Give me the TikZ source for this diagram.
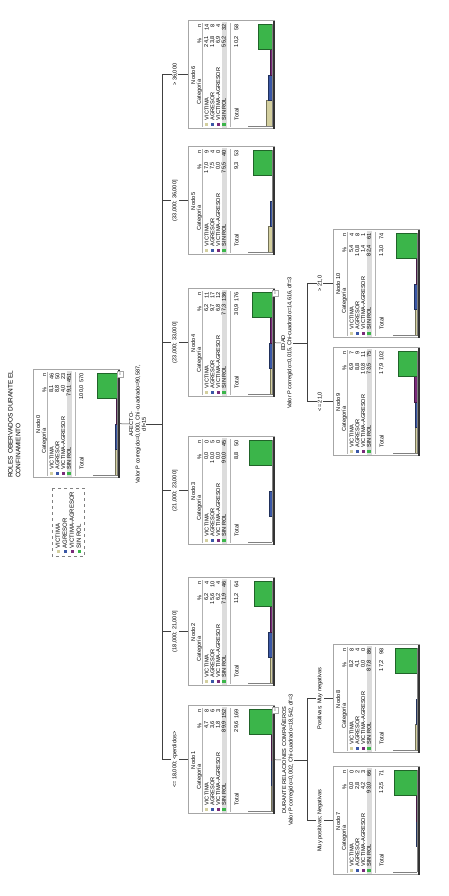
\documentclass[tikz,border=0pt]{standalone}
\usepackage{fontspec}
\setmainfont{Liberation Sans}
\definecolor{cat1}{HTML}{D3CF9F}
\definecolor{cat2}{HTML}{3A57A6}
\definecolor{cat3}{HTML}{7A2A7A}
\definecolor{cat4}{HTML}{3BB54A}
\definecolor{rowgray}{HTML}{DCDCDC}
\tikzset{
  txt/.style={inner sep=0pt, font=\fontsize{5.6}{6.4}\selectfont},
  boxst/.style={draw=gray!70, line width=0.6, minimum width=108pt, minimum height=86pt, inner sep=0pt},
  conn/.style={draw=black!75, line width=0.5},
  lab/.style={txt, fill=white, inner sep=1pt},
  collapse/.style={draw=gray!70, fill=white, minimum size=6pt, inner sep=0pt, font=\fontsize{5}{5}\selectfont},
}
\newcommand\treenode[7]{%
\begin{scope}[shift={(#2-54,-#3)}]
  \fill[rowgray] (1,-33.8) rectangle (107,-39);
  \node[boxst, anchor=north west] (#1) at (0,0) {};
  \draw[gray!40!black, line width=1.1] (0,-86) -- (108,-86);
  \node[txt] at (54,-5) {Nodo #4};
  \node[txt] at (37,-11.5) {Categoría};
  \node[txt,anchor=east] at (91,-11.5) {\%};
  \node[txt,anchor=east] at (105,-11.5) {n};
  \draw[gray!60, line width=0.3] (2,-14.6) -- (106,-14.6);
  \foreach \p/\n/\h [count=\i] in {#5}{
    \pgfmathsetmacro\yy{-18.6-5.8*(\i-1)}
    \fill[cat\i] (3,\yy-1.6) rectangle (6.2,\yy+1.6);
    \node[txt,anchor=west] at (8.5,\yy) {\ifcase\i\or VICTIMA\or AGRESOR\or VICTIMA-AGRESOR\or SIN ROL\fi};
    \node[txt,anchor=east] at (93,\yy) {\p};
    \node[txt,anchor=east] at (105,\yy) {\n};
    \pgfmathsetmacro\xx{3+25.5*(\i-1)}
    \ifdim\h pt>0pt
      \filldraw[fill=cat\i, draw=cat\i!55!black, line width=0.4] (\xx,-84) rectangle ++(25.5,\h*0.25);
    \fi
  }
  \draw[gray!60, line width=0.3] (2,-42) -- (106,-42);
  \node[txt,anchor=west] at (8.5,-48.5) {Total};
  \node[txt,anchor=east] at (93,-48.5) {#6};
  \node[txt,anchor=east] at (105,-48.5) {#7};
  \draw[gray, line width=0.4] (2.5,-84) -- (2.5,-60) (2.5,-84) -- (105,-84);
\end{scope}}
\begin{document}
\begin{tikzpicture}[x=1pt,y=1pt]
\useasboundingbox (0,0) rectangle (448,896);
\begin{scope}[rotate=90, transform shape]
  % title and legend
  \node[anchor=north west, align=left, inner sep=0pt, font=\fontsize{6.5}{7.6}\selectfont] (title) at (418,-8) {ROLES OBERVADOS DURANTE EL\\CONFINAMIENTO};
  \node[draw=gray, dashed, align=left, inner sep=3.5pt, font=\fontsize{6}{7}\selectfont, anchor=north east] (legend) at (408,-52)
    {\textcolor{cat1}{\rule{3.2pt}{3.2pt}} VICTIMA\\\textcolor{cat2}{\rule{3.2pt}{3.2pt}} AGRESOR\\\textcolor{cat3}{\rule{3.2pt}{3.2pt}} VICTIMA-AGRESOR\\\textcolor{cat4}{\rule{3.2pt}{3.2pt}} SIN ROL};
  % nodes
  \treenode{n0}{472}{33}{0}{{8,1}/46/8.1, {8,8}/50/8.8, {4,0}/23/4.0, {79,1}/451/79.1}{100,0}{570}
  \treenode{n1}{136}{188}{1}{{4,7}/8/4.7, {3,6}/6/3.6, {1,8}/3/1.8, {89,9}/152/89.9}{29,6}{169}
  \treenode{n2}{264}{188}{2}{{6,2}/4/6.2, {15,6}/10/15.6, {6,2}/4/6.2, {71,9}/46/71.9}{11,2}{64}
  \treenode{n3}{405}{188}{3}{{0,0}/0/0, {10,0}/5/10, {0,0}/0/0, {90,0}/45/90}{8,8}{50}
  \treenode{n4}{553}{188}{4}{{6,2}/11/6.2, {9,7}/17/9.7, {6,8}/12/6.8, {77,3}/136/77.3}{30,9}{176}
  \treenode{n5}{695}{188}{5}{{17,0}/9/17, {7,5}/4/7.5, {0,0}/0/0, {75,5}/40/75.5}{9,3}{53}
  \treenode{n6}{821}{188}{6}{{24,1}/14/24.1, {13,8}/8/13.8, {6,9}/4/6.9, {55,2}/32/55.2}{10,2}{58}
  \treenode{n7}{75}{333}{7}{{0,0}/0/0, {2,8}/2/2.8, {4,2}/3/4.2, {93,0}/66/93}{12,5}{71}
  \treenode{n8}{197}{333}{8}{{8,2}/8/8.2, {4,1}/4/4.1, {0,0}/0/0, {87,8}/86/87.8}{17,2}{98}
  \treenode{n9}{494}{333}{9}{{6,9}/7/6.9, {8,8}/9/8.8, {10,8}/11/10.8, {73,5}/75/73.5}{17,9}{102}
  \treenode{n10}{612}{333}{10}{{5,4}/4/5.4, {10,8}/8/10.8, {1,4}/1/1.4, {82,4}/61/82.4}{13,0}{74}
  % collapse boxes
  \node[collapse] (c0) at ([xshift=-5pt,yshift=-1pt]n0.south east) {–};
  \node[collapse] (c1) at ([xshift=-5pt,yshift=-1pt]n1.south east) {–};
  \node[collapse] (c4) at ([xshift=-5pt,yshift=-1pt]n4.south east) {–};
  % root split
  \node[txt, align=center, anchor=north] (s0) at (472,-129) {AFECTO-\\Valor P corregido=0,000, Chi-cuadrado=90,587,\\df=15};
  \coordinate (b0) at (472,-162);
  \draw[conn] (n0.south) -- (s0.north);
  \draw[conn] (s0.south) -- (b0);
  \draw[conn] (n1.north |- b0) -- (n6.north |- b0);
  \draw[conn] (n1.north |- b0) -- (n1.north) node[lab, midway] {<= 18,000; <perdidos>};
  \draw[conn] (n2.north |- b0) -- (n2.north) node[lab, midway] {(18,000; 21,000]};
  \draw[conn] (n3.north |- b0) -- (n3.north) node[lab, midway] {(21,000; 23,000]};
  \draw[conn] (n4.north |- b0) -- (n4.north) node[lab, midway] {(23,000; 33,000]};
  \draw[conn] (n5.north |- b0) -- (n5.north) node[lab, midway] {(33,000; 36,000]};
  \draw[conn] (n6.north |- b0) -- (n6.north) node[lab, midway] {> 36,000};
  % node 1 split
  \node[txt, align=center, anchor=north] (s1) at (136,-281) {DURANTE RELACIONES COMPAÑEROS\\Valor P corregido=0,002, Chi-cuadrado=18,542, df=3};
  \coordinate (b1) at (136,-307);
  \draw[conn] (n1.south) -- (s1.north);
  \draw[conn] (s1.south) -- (b1);
  \draw[conn] (n7.north |- b1) -- (n8.north |- b1);
  \draw[conn] (n7.north |- b1) -- (n7.north) node[lab, midway] {Muy positivas; Negativas};
  \draw[conn] (n8.north |- b1) -- (n8.north) node[lab, midway] {Positivas; Muy negativas};
  % node 4 split
  \node[txt, align=center, anchor=north] (s4) at (553,-281) {EDAD\\Valor P corregido=0,015, Chi-cuadrado=14,616, df=3};
  \coordinate (b4) at (553,-307);
  \draw[conn] (n4.south) -- (s4.north);
  \draw[conn] (s4.south) -- (b4);
  \draw[conn] (n9.north |- b4) -- (n10.north |- b4);
  \draw[conn] (n9.north |- b4) -- (n9.north) node[lab, midway] {<= 21,0};
  \draw[conn] (n10.north |- b4) -- (n10.north) node[lab, midway] {> 21,0};
\end{scope}
\end{tikzpicture}
\end{document}
